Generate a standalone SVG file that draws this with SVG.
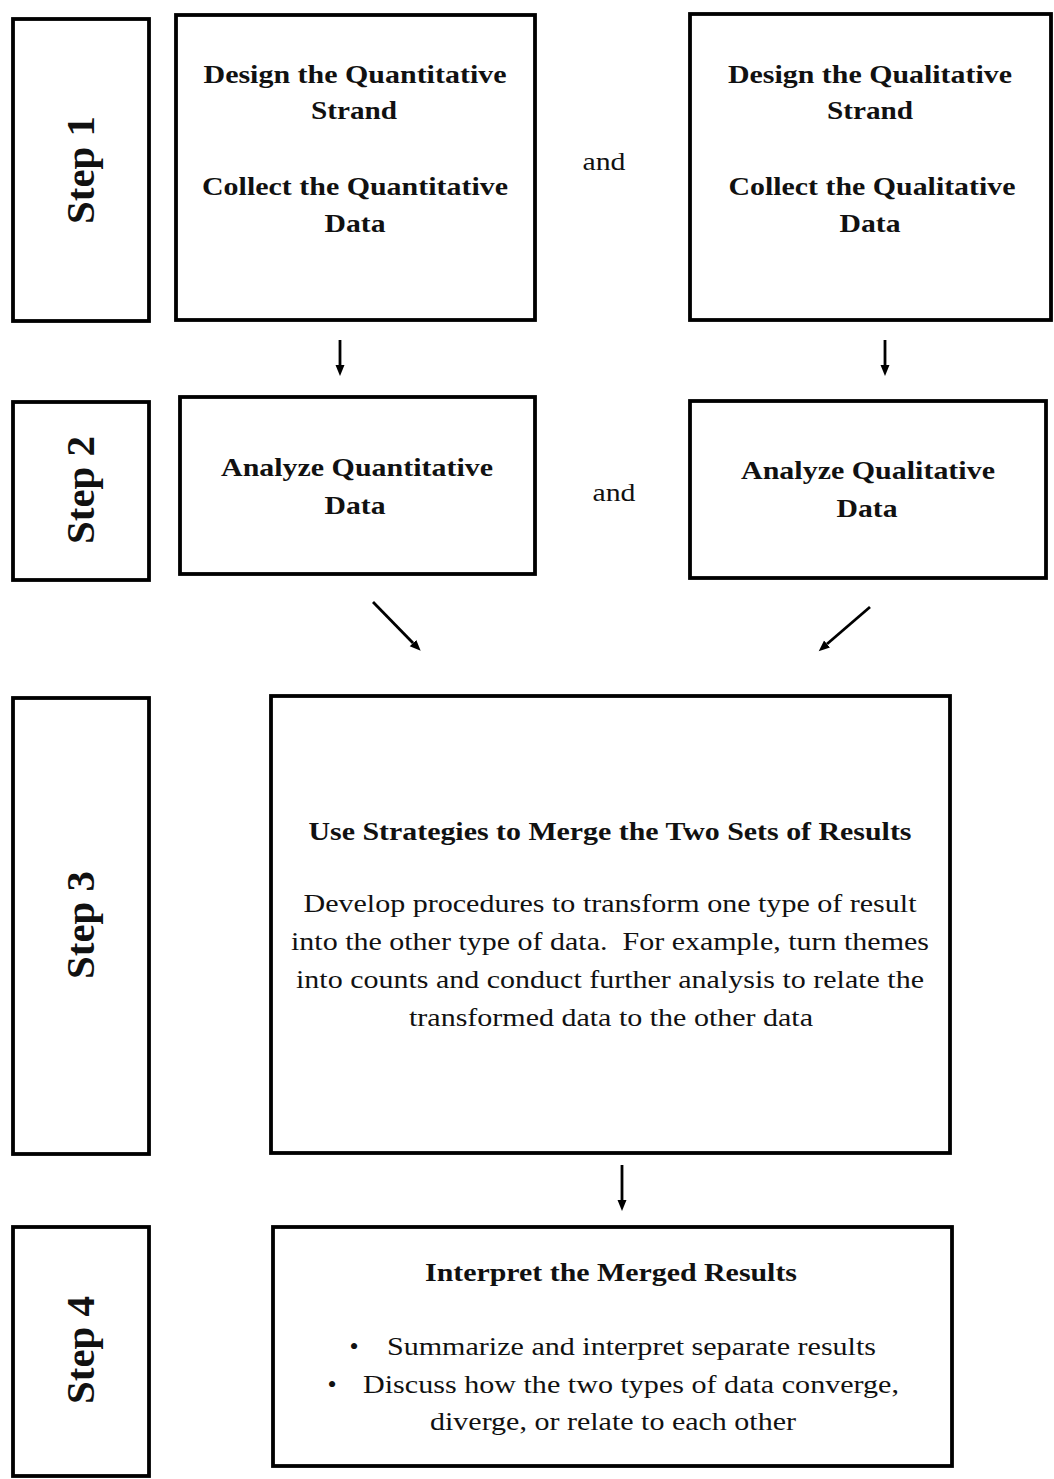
<svg xmlns="http://www.w3.org/2000/svg" width="1054" height="1479" viewBox="0 0 1054 1479">
<style>
.box{fill:#fff;stroke:#000;stroke-width:3.8}
.b{font-family:"Times New Roman","Liberation Serif",Tinos,serif;font-weight:bold;font-size:26px;fill:#111;text-anchor:middle}
.r{font-family:"Times New Roman","Liberation Serif",Tinos,serif;font-size:26px;fill:#111;text-anchor:middle}
.s{font-family:"Times New Roman","Liberation Serif",Tinos,serif;font-weight:bold;font-size:39px;fill:#111;text-anchor:middle}
.c{stroke:#000;stroke-width:2.8;fill:none}
</style>
<defs>
<marker id="ah" markerUnits="userSpaceOnUse" markerWidth="12" markerHeight="10" refX="0" refY="4.5" orient="auto" viewBox="0 0 12 9">
<path d="M0,0 L11,4.5 L0,9 z" fill="#000"/>
</marker>
</defs>
<rect width="1054" height="1479" fill="#fff"/>

<g id="step1"><rect class="box" x="13" y="19" width="136" height="302"/><text class="s" transform="translate(94,170) rotate(-90)" textLength="108" lengthAdjust="spacingAndGlyphs">Step 1</text></g>
<g id="step2"><rect class="box" x="13" y="402" width="136" height="178"/><text class="s" transform="translate(94,490) rotate(-90)" textLength="108" lengthAdjust="spacingAndGlyphs">Step 2</text></g>
<g id="step3"><rect class="box" x="13" y="698" width="136" height="456"/><text class="s" transform="translate(94,925) rotate(-90)" textLength="108" lengthAdjust="spacingAndGlyphs">Step 3</text></g>
<g id="step4"><rect class="box" x="13" y="1227" width="136" height="249"/><text class="s" transform="translate(94,1350) rotate(-90)" textLength="108" lengthAdjust="spacingAndGlyphs">Step 4</text></g>

<g id="quant-design"><rect class="box" x="176" y="15" width="359" height="305"/>
<text class="b" x="355" y="83" textLength="303" lengthAdjust="spacingAndGlyphs">Design the Quantitative</text>
<text class="b" x="354" y="119" textLength="86" lengthAdjust="spacingAndGlyphs">Strand</text>
<text class="b" x="355" y="195" textLength="306" lengthAdjust="spacingAndGlyphs">Collect the Quantitative</text>
<text class="b" x="355" y="232" textLength="61" lengthAdjust="spacingAndGlyphs">Data</text></g>

<g id="and1"><text class="r" x="604" y="170" textLength="43" lengthAdjust="spacingAndGlyphs">and</text></g>

<g id="qual-design"><rect class="box" x="690" y="14" width="361" height="306"/>
<text class="b" x="870" y="83" textLength="284" lengthAdjust="spacingAndGlyphs">Design the Qualitative</text>
<text class="b" x="870" y="119" textLength="86" lengthAdjust="spacingAndGlyphs">Strand</text>
<text class="b" x="872" y="195" textLength="287" lengthAdjust="spacingAndGlyphs">Collect the Qualitative</text>
<text class="b" x="870" y="232" textLength="61" lengthAdjust="spacingAndGlyphs">Data</text></g>

<g id="quant-analyze"><rect class="box" x="180" y="397" width="355" height="177"/>
<text class="b" x="357" y="476" textLength="272" lengthAdjust="spacingAndGlyphs">Analyze Quantitative</text>
<text class="b" x="355" y="514" textLength="61" lengthAdjust="spacingAndGlyphs">Data</text></g>

<g id="and2"><text class="r" x="614" y="501" textLength="43" lengthAdjust="spacingAndGlyphs">and</text></g>

<g id="qual-analyze"><rect class="box" x="690" y="401" width="356" height="177"/>
<text class="b" x="868" y="479" textLength="254" lengthAdjust="spacingAndGlyphs">Analyze Qualitative</text>
<text class="b" x="867" y="517" textLength="61" lengthAdjust="spacingAndGlyphs">Data</text></g>

<g id="merge"><rect class="box" x="271" y="696" width="679" height="457"/>
<text class="b" x="610" y="840" textLength="603" lengthAdjust="spacingAndGlyphs">Use Strategies to Merge the Two Sets of Results</text>
<text class="r" x="610" y="912" textLength="613" lengthAdjust="spacingAndGlyphs">Develop procedures to transform one type of result</text>
<text class="r" x="610" y="950" textLength="638" lengthAdjust="spacingAndGlyphs" xml:space="preserve">into the other type of data.  For example, turn themes</text>
<text class="r" x="610" y="988" textLength="628" lengthAdjust="spacingAndGlyphs">into counts and conduct further analysis to relate the</text>
<text class="r" x="611" y="1026" textLength="404" lengthAdjust="spacingAndGlyphs">transformed data to the other data</text></g>

<g id="interpret"><rect class="box" x="273" y="1227" width="679" height="239"/>
<text class="b" x="611" y="1281" textLength="372" lengthAdjust="spacingAndGlyphs">Interpret the Merged Results</text>
<text class="r" x="354" y="1355">•</text>
<text class="r" x="387" y="1355" style="text-anchor:start" textLength="489" lengthAdjust="spacingAndGlyphs">Summarize and interpret separate results</text>
<text class="r" x="332" y="1393">•</text>
<text class="r" x="363" y="1393" style="text-anchor:start" textLength="536" lengthAdjust="spacingAndGlyphs">Discuss how the two types of data converge,</text>
<text class="r" x="613" y="1430" textLength="366" lengthAdjust="spacingAndGlyphs">diverge, or relate to each other</text></g>

<g id="connectors">
<line class="c" x1="340" y1="340" x2="340" y2="365" marker-end="url(#ah)"/>
<line class="c" x1="885" y1="340" x2="885" y2="365" marker-end="url(#ah)"/>
<line class="c" x1="373" y1="602" x2="413" y2="643" marker-end="url(#ah)"/>
<line class="c" x1="870" y1="607" x2="827" y2="644" marker-end="url(#ah)"/>
<line class="c" x1="622" y1="1165" x2="622" y2="1200" marker-end="url(#ah)"/>
</g>
</svg>
